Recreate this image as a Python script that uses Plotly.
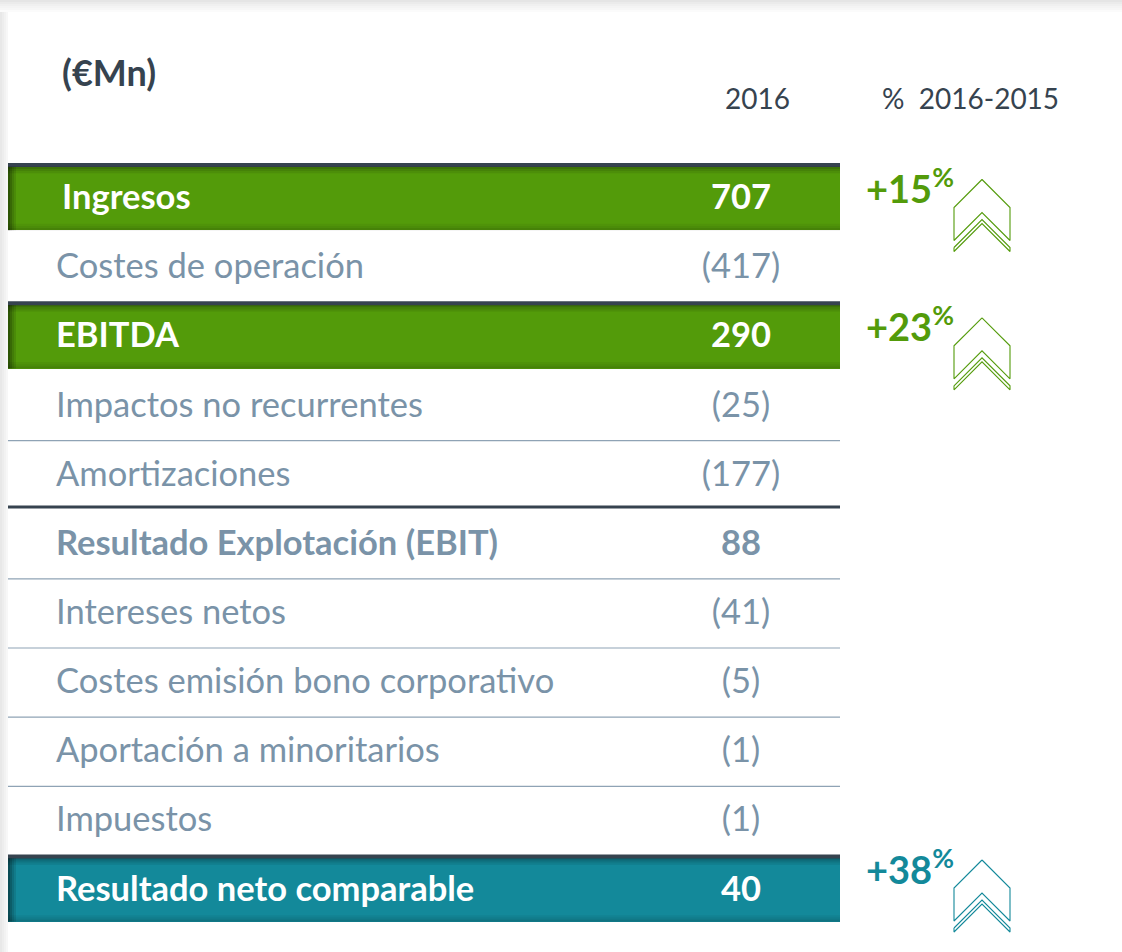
import plotly.graph_objects as go

# 손익계산서 요약 (백만 유로)
labels = [
    "Ingresos",
    "Costes de operación",
    "EBITDA",
    "Impactos no recurrentes",
    "Amortizaciones",
    "Resultado Explotación (EBIT)",
    "Intereses netos",
    "Costes emisión bono corporativo",
    "Aportación a minoritarios",
    "Impuestos",
    "Resultado neto comparable",
]
values_2016 = [707, -417, 290, -25, -177, 88, -41, -5, -1, -1, 40]
row_kind = ["green", "plain", "green", "plain", "plain", "subtotal",
            "plain", "plain", "plain", "plain", "teal"]
change_rows = [0, 2, 10]
change_pct = [15, 23, 38]

unit_label = "(€Mn)"
col_year = "2016"
col_change = "%  2016-2015"

W, H = 1122, 952
ROW0, STEP = 198.5, 69.15       # 첫 행 중심 픽셀, 행 간격
GREEN, TEAL = "#539b0a", "#13899a"
SLATE, GREYBLUE, RULE = "#36434f", "#7a93a8", "#8fa3b5"
FONT = "Lato"


def px_to_row(p):
    return (p - ROW0) / STEP


def fmt(v):
    return f"({abs(v)})" if v < 0 else f"{v}"


band_rows = [i for i, k in enumerate(row_kind) if k in ("green", "teal")]
band_colors = [GREEN if row_kind[i] == "green" else TEAL for i in band_rows]

fig = go.Figure()

# 강조 행 (막대)
fig.add_trace(go.Bar(
    orientation="h", y=band_rows, x=[832] * len(band_rows), base=8,
    width=0.92, marker=dict(color=band_colors, line_width=0),
    hoverinfo="skip",
))

shapes = []
# 카드 그림자
for k, op in enumerate([0.10, 0.08, 0.06, 0.045, 0.03, 0.015]):
    shapes.append(dict(type="rect", xref="x", yref="paper", x0=0, x1=W,
                       y0=1 - (2 * k) / H, y1=1 - (2 * k + 2) / H,
                       fillcolor="black", opacity=op, line_width=0, layer="below"))
for k, op in enumerate([0.09, 0.07, 0.05, 0.03]):
    shapes.append(dict(type="rect", xref="x", yref="paper", x0=2 * k, x1=2 * k + 2,
                       y0=0, y1=1 - 12 / H,
                       fillcolor="black", opacity=op, line_width=0, layer="below"))

for i in band_rows:
    top, bot = i - 0.46, i + 0.46
    # 상단 진한 선
    shapes.append(dict(type="line", x0=8, x1=840, y0=top - 0.025, y1=top - 0.025,
                       line=dict(color=SLATE, width=4)))
    # 음영
    for k, op in enumerate([0.26, 0.16, 0.08]):
        d = 2.2 / STEP
        shapes.append(dict(type="rect", x0=8, x1=840, y0=top + k * d, y1=top + (k + 1) * d,
                           fillcolor="black", opacity=op, line_width=0))
        shapes.append(dict(type="rect", x0=8, x1=840, y0=bot - (k + 1) * d, y1=bot - k * d,
                           fillcolor="black", opacity=op * 0.6, line_width=0))
    for k, op in enumerate([0.45, 0.32, 0.2, 0.1]):
        shapes.append(dict(type="rect", x0=8 + 2 * k, x1=10 + 2 * k, y0=top, y1=bot,
                           fillcolor="black", opacity=op, line_width=0))

# 행 구분선
for i in range(len(labels) - 1):
    a, b = row_kind[i], row_kind[i + 1]
    if a in ("green", "teal") or b in ("green", "teal"):
        continue
    y = i + 0.5
    if b == "subtotal":
        shapes.append(dict(type="line", x0=8, x1=840, y0=y - 0.04, y1=y - 0.04,
                           line=dict(color=SLATE, width=3)))
    else:
        shapes.append(dict(type="line", x0=8, x1=840, y0=y, y1=y,
                           line=dict(color=RULE, width=1.2)))

# 항목명 / 값
lab_text, val_text, colors = [], [], []
for lab, v, k in zip(labels, values_2016, row_kind):
    if k in ("green", "teal"):
        lab_text.append(f"<b>{lab}</b>")
        val_text.append(f"<b>{fmt(v)}</b>")
        colors.append("white")
    elif k == "subtotal":
        lab_text.append(f"<b>{lab}</b>")
        val_text.append(f"<b>{fmt(v)}</b>")
        colors.append(GREYBLUE)
    else:
        lab_text.append(lab)
        val_text.append(fmt(v))
        colors.append(GREYBLUE)

rows = list(range(len(labels)))
text_y = [i + 2 / STEP for i in rows]
label_x = [62 if i == 0 else 56 for i in rows]   # Ingresos 만 살짝 들여쓰기
fig.add_trace(go.Scatter(
    x=label_x, y=text_y, mode="text", text=lab_text,
    textposition="middle right",
    textfont=dict(family=FONT, size=34.5, color=colors), hoverinfo="skip",
))
fig.add_trace(go.Scatter(
    x=[741] * len(rows), y=text_y, mode="text", text=val_text,
    textposition="middle center",
    textfont=dict(family=FONT, size=34.5, color=colors), hoverinfo="skip",
))

# 증감률 + 화살표
nudge_px = {10: -11}
pct_y, pct_c = [], []
for r, pct in zip(change_rows, change_pct):
    col = TEAL if row_kind[r] == "teal" else GREEN
    n = nudge_px.get(r, 0)
    pct_y.append(r + (-5 + n) / STEP)
    pct_c.append(col)
    apex = r + (-19 + n) / STEP
    cx = 982
    outline = [(0, 0), (28, 28), (28, 61), (0, 33), (-28, 61), (-28, 28), (0, 0)]
    band = [(-28, 68), (0, 40), (28, 68), (28, 72), (0, 44), (-28, 72), (-28, 68)]
    xs, ys = [], []
    for poly in (outline, band):
        xs += [cx + dx for dx, dy in poly] + [None]
        ys += [apex + dy / STEP for dx, dy in poly] + [None]
    fig.add_trace(go.Scatter(x=xs, y=ys, mode="lines",
                             line=dict(color=col, width=1.1), hoverinfo="skip"))

fig.add_trace(go.Scatter(
    x=[866] * len(change_rows), y=pct_y, mode="text",
    text=[f"<b>+{p}<sup>%</sup></b>" for p in change_pct],
    textposition="middle right",
    textfont=dict(family=FONT, size=38, color=pct_c), hoverinfo="skip",
))

annotations = [
    dict(x=60, y=px_to_row(72), text=f"<b>{unit_label}</b>", showarrow=False,
         xanchor="left", font=dict(family=FONT, size=36, color=SLATE)),
    dict(x=757, y=px_to_row(98), text=col_year, showarrow=False,
         font=dict(family=FONT, size=28, color=SLATE)),
    dict(x=970, y=px_to_row(98), text=col_change, showarrow=False,
         font=dict(family=FONT, size=28, color=SLATE)),
]

fig.update_layout(
    width=W, height=H, margin=dict(t=0, r=0, b=0, l=0),
    paper_bgcolor="white", plot_bgcolor="white", showlegend=False,
    xaxis=dict(range=[0, W], visible=False, fixedrange=True),
    yaxis=dict(range=[px_to_row(H), px_to_row(0)], visible=False, fixedrange=True),
    shapes=shapes, annotations=annotations, bargap=0,
)

fig.write_html("out.html", config={"displayModeBar": False},
               post_script="document.body.style.margin='0';")
